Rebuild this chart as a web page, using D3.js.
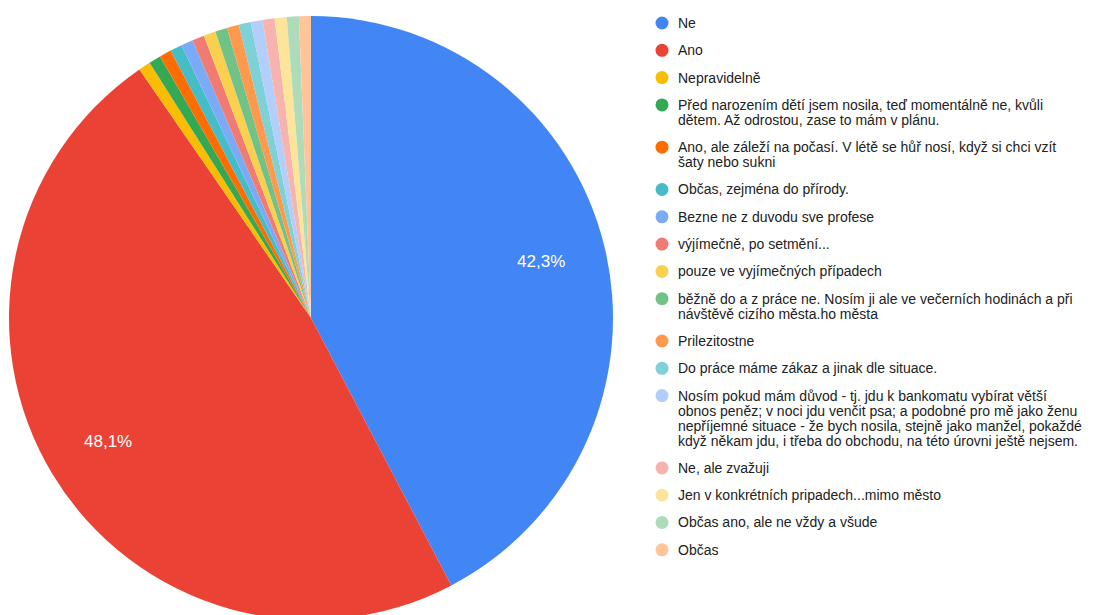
<!DOCTYPE html>
<html>
<head>
<meta charset="utf-8">
<script src="https://cdn.jsdelivr.net/npm/d3@7"></script>
<style>
  html, body { margin: 0; padding: 0; background: #fff; }
  svg { display: block; }
</style>
</head>
<body>
<svg id="chart" width="1109" height="615"></svg>
<script>
const categories = [
  "Ne",
  "Ano",
  "Nepravidelně",
  "Před narozením dětí jsem nosila, teď momentálně ne, kvůli\ndětem. Až odrostou, zase to mám v plánu.",
  "Ano, ale záleží na počasí. V létě se hůř nosí, když si chci vzít\nšaty nebo sukni",
  "Občas, zejména do přírody.",
  "Bezne ne z duvodu sve profese",
  "výjímečně, po setmění...",
  "pouze ve vyjímečných případech",
  "běžně do a z práce ne. Nosím ji ale ve večerních hodinách a při\nnávštěvě cizího města.ho města",
  "Prilezitostne",
  "Do práce máme zákaz a jinak dle situace.",
  "Nosím pokud mám důvod - tj. jdu k bankomatu vybírat větší\nobnos peněz; v noci jdu venčit psa; a podobné pro mě jako ženu\nnepříjemné situace - že bych nosila, stejně jako manžel, pokaždé\nkdyž někam jdu, i třeba do obchodu, na této úrovni ještě nejsem.",
  "Ne, ale zvažuji",
  "Jen v konkrétních pripadech...mimo město",
  "Občas ano, ale ne vždy a všude",
  "Občas"
];
const counts = [66, 75, 1, 1, 1, 1, 1, 1, 1, 1, 1, 1, 1, 1, 1, 1, 1];
const colors = [
  "#4285F4", "#EA4335", "#FBBC04", "#34A853", "#FF6D01", "#46BDC6",
  "#7BAAF7", "#F07B72", "#FCD04F", "#71C287", "#FF994D", "#7ED1D7",
  "#B3CEFB", "#F7B4AE", "#FDE49B", "#AEDCBA", "#FFC599"
];

const svg = d3.select("#chart");
const cx = 311, cy = 318, R = 302;
const total = d3.sum(counts);
const data = categories.map((c, i) => ({ label: c, value: counts[i], color: colors[i] }));

const pie = d3.pie().value(d => d.value).sort(null);
const arcs = pie(data);
const arc = d3.arc().innerRadius(0).outerRadius(R);
const labelArc = d3.arc().innerRadius(R * 0.785).outerRadius(R * 0.785);

const g = svg.append("g").attr("transform", `translate(${cx},${cy})`);
g.selectAll("path.slice").data(arcs).enter().append("path")
  .attr("class", "slice")
  .attr("d", arc)
  .attr("fill", d => d.data.color);

const fmt = v => (Math.round(v * 1000) / 10).toFixed(1).replace(".", ",") + "%";
g.selectAll("text.pct").data(arcs.filter(d => d.data.value / total > 0.05)).enter().append("text")
  .attr("class", "pct")
  .attr("transform", d => `translate(${labelArc.centroid(d)})`)
  .attr("text-anchor", "middle")
  .attr("dy", "0.36em")
  .attr("fill", "#ffffff")
  .style("font-family", "Arial, 'Liberation Sans', sans-serif")
  .style("font-size", "17px")
  .text(d => fmt(d.data.value / total));

// legend
const legend = svg.append("g");
const rowGap = 27.3, lineH = 15;
let y = 23;
data.forEach(d => {
  const lines = d.label.split("\n");
  const item = legend.append("g");
  item.append("circle").attr("cx", 662).attr("cy", y).attr("r", 6.5).attr("fill", d.color);
  const t = item.append("text")
    .attr("x", 678).attr("y", y)
    .attr("fill", "#222222")
    .style("font-family", "Arial, 'Liberation Sans', sans-serif")
    .style("font-size", "14px");
  lines.forEach((ln, i) => {
    t.append("tspan").attr("x", 678).attr("y", y + i * lineH).attr("dy", "0.35em").text(ln);
  });
  y += (lines.length - 1) * lineH + rowGap;
});
</script>
</body>
</html>
